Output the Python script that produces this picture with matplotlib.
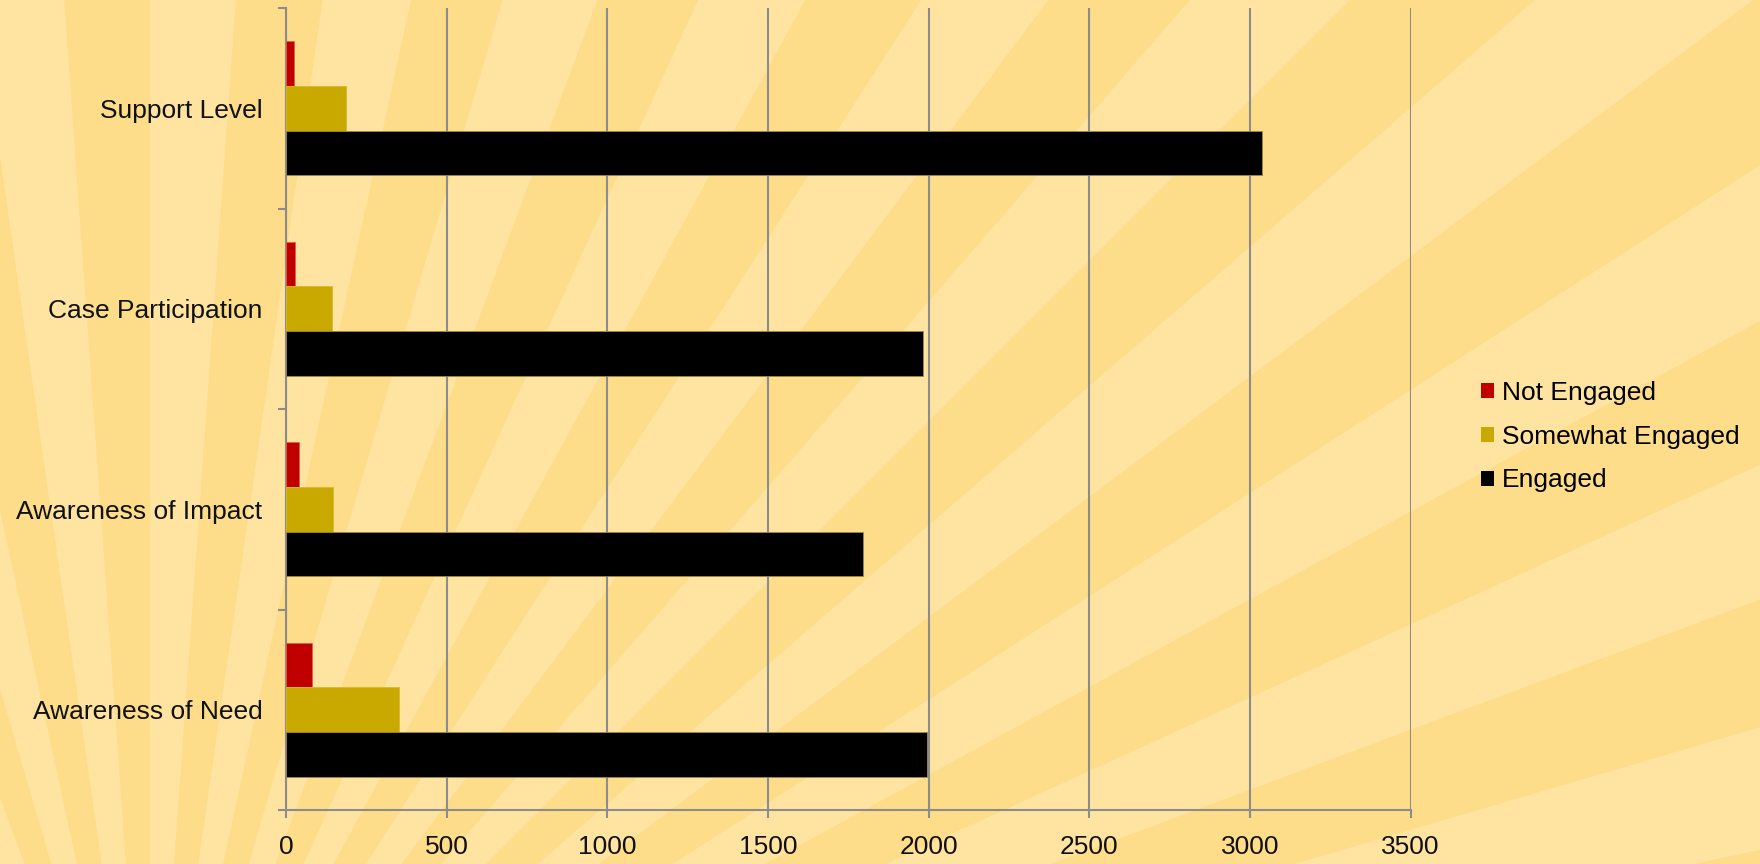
import matplotlib
matplotlib.use("Agg")
import matplotlib.pyplot as plt
from matplotlib.patches import Wedge, Patch
import numpy as np

categories = ["Awareness of Need", "Awareness of Impact", "Case Participation", "Support Level"]
series_names = ["Not Engaged", "Somewhat Engaged", "Engaged"]
not_engaged = [80, 40, 29, 25]
somewhat_engaged = [353, 146, 142, 187]
engaged = [1994, 1795, 1981, 3037]
x_ticks = [0, 500, 1000, 1500, 2000, 2500, 3000, 3500]

colors = ["#C00000", "#C9A900", "#000000"]
edgecolors = ["#E06040", "#D8B830", "#A08840"]

W, H = 1760, 864
fig = plt.figure(figsize=(W / 100, H / 100), dpi=100)
plt.rcParams['font.family'] = ['Liberation Sans', 'DejaVu Sans']

# sunburst background
bg = fig.add_axes([0, 0, 1, 1])
bg.set_xlim(0, W)
bg.set_ylim(H, 0)
bg.axis("off")
bg.add_patch(plt.Rectangle((0, 0), W, H, color="#FDDD8A", zorder=0))
cx, cy = 150, 1200
n = 44
step = 360 / n
for i in range(n):
    a0 = i * step
    bg.add_patch(Wedge((cx, cy), 3000, a0, a0 + step * 0.5, color="#FEE4A0", lw=0, zorder=1))

ax = fig.add_axes([286 / W, 1 - 810 / H, (1410.6 - 286) / W, (810 - 8) / H])
ax.patch.set_alpha(0)

y = np.arange(len(categories))
bh = 1 / 4.5
data = [not_engaged, somewhat_engaged, engaged]
offsets = [bh, 0, -bh]
for vals, off, c, ec, name in zip(data, offsets, colors, edgecolors, series_names):
    ax.barh(y + off, vals, height=bh, color=c, edgecolor=ec, linewidth=0.6, label=name, zorder=3)

ax.set_xlim(0, 3500)
ax.set_ylim(-0.5, len(categories) - 0.5)
ax.set_xticks(x_ticks)
ax.set_xticklabels([str(t) for t in x_ticks])
ax.set_yticks(y)
ax.set_yticklabels(categories)
ax.set_yticks(np.arange(-0.5, len(categories), 1.0), minor=True)

grid_c = "#8C8C8C"
ax.grid(axis="x", color=grid_c, linewidth=1.5, zorder=1)
ax.set_axisbelow(True)
for s in ["top", "right"]:
    ax.spines[s].set_visible(False)
for s in ["left", "bottom"]:
    ax.spines[s].set_color(grid_c)
    ax.spines[s].set_linewidth(1.5)

ax.tick_params(axis="y", which="major", length=0, pad=17, labelsize=19, labelcolor="#111111")
ax.tick_params(axis="y", which="minor", length=6, width=1.5, color=grid_c)
ax.tick_params(axis="x", which="major", length=6, width=1.5, color=grid_c, pad=12,
               labelsize=19, labelcolor="#111111")

handles = [Patch(facecolor=c, edgecolor="none") for c in colors]
fig.legend(handles, series_names, loc="center left",
           bbox_to_anchor=(1481 / W, 1 - 436.6 / H), frameon=False,
           fontsize=19, handlelength=0.5, handleheight=0.5, handletextpad=0.3,
           labelspacing=0.75, borderpad=0, borderaxespad=0)

fig.savefig("out.png", dpi=100)
